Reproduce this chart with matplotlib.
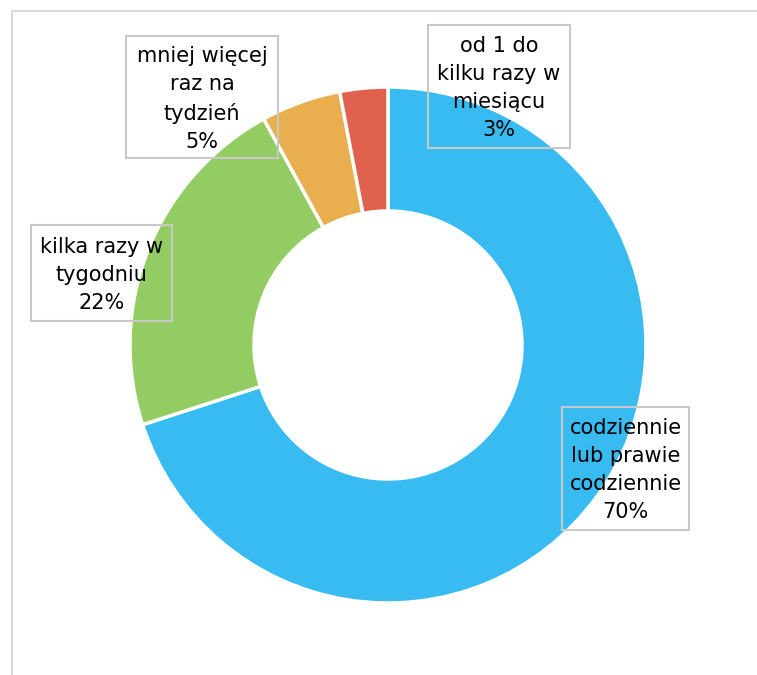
import matplotlib.pyplot as plt
from matplotlib.patches import Rectangle

# dane
labels = ['codziennie\nlub prawie\ncodziennie', 'kilka razy w\ntygodniu',
          'mniej więcej\nraz na\ntydzień', 'od 1 do\nkilku razy w\nmiesiącu']
values = [70, 22, 5, 3]
colors = ['#38BBF1', '#92CC62', '#E9AE4E', '#E0614D']

# pozycje ramek etykiet (x0, y0 od góry, szer., wys.) w pikselach
boxes = [(562, 407, 127, 123), (31, 225, 141, 96), (126, 36, 152, 122), (428, 25, 142, 123)]

W, H = 757, 675
fig = plt.figure(figsize=(W / 100, H / 100), dpi=100)
ax = fig.add_axes([0, 0, 1, 1])
ax.set_xlim(0, W)
ax.set_ylim(0, H)
ax.set_aspect('equal')
ax.axis('off')

# ramka wykresu
ax.plot([11.5, 11.5, W], [0, H - 10.5, H - 10.5], color='#d9d9d9', lw=1.5)

ax.pie(values, colors=colors, startangle=90, counterclock=False,
       center=(388, H - 345), radius=258,
       wedgeprops=dict(width=124, edgecolor='white', linewidth=2.5))
ax.set_xlim(0, W)
ax.set_ylim(0, H)

for lab, v, (x0, y0, w, h) in zip(labels, values, boxes):
    ax.add_patch(Rectangle((x0, H - y0 - h), w, h, fill=False,
                           edgecolor='#c8c8c8', lw=1.5))
    ax.text(x0 + w / 2, H - y0 - h / 2 - 2, f'{lab}\n{v}%', ha='center', va='center',
            multialignment='center', fontsize=15, linespacing=1.5,
            family='DejaVu Sans', color='black')

fig.savefig('out.png', dpi=100)
